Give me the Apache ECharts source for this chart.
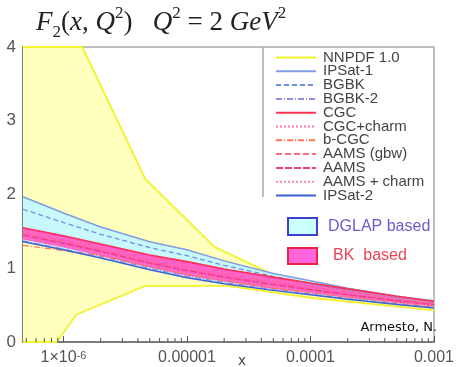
<!DOCTYPE html>
<html><head><meta charset="utf-8">
<script src="https://cdn.jsdelivr.net/npm/echarts@6/dist/echarts.min.js"></script>
<style>html,body{margin:0;padding:0;background:#fff}#c{width:457px;height:367px}</style>
</head><body><div id="c"></div>
<script>
// ---- data ----
const xs = [4.7e-7, 1e-6, 2e-6, 5e-6, 1e-5, 2e-5, 5e-5, 1e-4, 2e-4, 5e-4, 1e-3];
const ipsat1   = [1.97, 1.75, 1.56, 1.36, 1.25, 1.10, 0.93, 0.83, 0.73, 0.62, 0.56];
const bgbk     = [1.80, 1.62, 1.46, 1.28, 1.17, 1.04, 0.89, 0.79, 0.70, 0.60, 0.54];
const bgbk2    = [1.37, 1.26, 1.16, 1.00, 0.89, 0.81, 0.71, 0.65, 0.59, 0.52, 0.47];
const cgc      = [1.55, 1.44, 1.33, 1.18, 1.09, 0.99, 0.88, 0.80, 0.72, 0.62, 0.55];
const cgcCharm = [1.51, 1.40, 1.29, 1.14, 1.04, 0.95, 0.84, 0.77, 0.69, 0.60, 0.53];
const bcgc     = [1.31, 1.24, 1.17, 1.02, 0.92, 0.83, 0.73, 0.67, 0.61, 0.53, 0.48];
const aamsGbw  = [1.48, 1.37, 1.26, 1.10, 1.00, 0.91, 0.81, 0.74, 0.67, 0.58, 0.52];
const aams     = [1.45, 1.34, 1.23, 1.07, 0.97, 0.88, 0.78, 0.71, 0.64, 0.56, 0.50];
const aamsCharm= [1.42, 1.30, 1.20, 1.04, 0.93, 0.85, 0.75, 0.68, 0.62, 0.54, 0.49];
const pinkLow  = [1.39, 1.28, 1.17, 1.01, 0.90, 0.82, 0.72, 0.66, 0.60, 0.53, 0.48];
const ipsat2   = [1.36, 1.25, 1.14, 0.98, 0.87, 0.79, 0.70, 0.64, 0.58, 0.51, 0.46];
// NNPDF 1.0 band edges
const nnUpX = [4.7e-7, 1.42e-6, 4.6e-6, 1.67e-5, 5.5e-5, 2e-4, 1e-3];
const nnUpY = [4.0, 4.0, 2.21, 1.29, 0.88, 0.72, 0.52];
const nnLoX = [4.7e-7, 8.8e-7, 1.27e-6, 4.6e-6, 2.13e-5, 1e-4, 1e-3];
const nnLoY = [0.0, 0.0, 0.37, 0.76, 0.76, 0.60, 0.43];
// axis ticks
const xMajor = [1e-6, 1e-5, 1e-4, 1e-3];
const xMajorLabels = ['1×10{sup|-6}', '0.00001', '0.0001', '0.001'];
const xMinor = [5e-7,6e-7,7e-7,8e-7,9e-7, 2e-6,3e-6,4e-6,5e-6,6e-6,7e-6,8e-6,9e-6,
                2e-5,3e-5,4e-5,5e-5,6e-5,7e-5,8e-5,9e-5, 2e-4,3e-4,4e-4,5e-4,6e-4,7e-4,8e-4,9e-4];
const legendNames = ['NNPDF 1.0','IPSat-1','BGBK','BGBK-2','CGC','CGC+charm','b-CGC','AAMS (gbw)','AAMS','AAMS + charm','IPSat-2'];

// ---- chart ----
const chart = echarts.init(document.getElementById('c'), null, {renderer: 'canvas'});
const pair = (X, Y) => X.map((x, i) => [x, Y[i]]);

function band(upX, upY, loX, loY, fill, z) {
  return {
    type: 'custom', z: z, silent: true,
    data: [[upX[0], upY[0]]],
    renderItem: function (params, api) {
      const pts = [];
      for (let i = 0; i < upX.length; i++) pts.push(api.coord([upX[i], upY[i]]));
      for (let i = loX.length - 1; i >= 0; i--) pts.push(api.coord([loX[i], loY[i]]));
      return { type: 'polygon', shape: { points: pts }, style: { fill: fill, stroke: null } };
    }
  };
}
function line(name, X, Y, color, width, type, z) {
  return {
    type: 'line', name: name, data: pair(X, Y), symbol: 'none', z: z || 5,
    lineStyle: { color: color, width: width, type: type || 'solid' },
    itemStyle: { color: color }, silent: true
  };
}

const option = {
  animation: false,
  grid: { left: 23, right: 18, top: 47, bottom: 25, show: true, borderColor: '#aaaaaa', borderWidth: 1.5 },
  xAxis: {
    type: 'log', min: 4.7e-7, max: 1e-3, logBase: 10,
    axisLine: { lineStyle: { color: '#666', width: 1.5 } },
    axisTick: { inside: true, length: 6, lineStyle: { color: '#555', width: 1 } },
    splitLine: { show: false },
    axisLabel: {
      color: '#555', fontSize: 16, fontFamily: 'Liberation Sans', margin: 8, showMinLabel: false,
      formatter: function (v) {
        for (let i = 0; i < xMajor.length; i++) {
          if (Math.abs(Math.log10(v) - Math.log10(xMajor[i])) < 1e-3) return xMajorLabels[i];
        }
        return '';
      },
      rich: { sup: { fontSize: 11, verticalAlign: 'top', lineHeight: 8, color: '#555', fontFamily: 'Liberation Sans' } }
    }
  },
  yAxis: {
    type: 'value', min: 0, max: 4, interval: 1,
    axisLine: { show: true, lineStyle: { color: '#666', width: 1.5 } },
    axisTick: { show: true, inside: true, length: 6, lineStyle: { color: '#444', width: 1.5 } },
    minorTick: { show: true, splitNumber: 5, length: 4, lineStyle: { color: '#555', width: 1 } },
    splitLine: { show: false },
    axisLabel: { color: '#555', fontSize: 17, fontFamily: 'Liberation Sans', margin: 7 }
  },
  legend: {
    data: legendNames, orient: 'vertical', left: 275, top: 50,
    itemWidth: 40, itemHeight: 10, itemGap: -1.2, padding: 0,
    itemStyle: { color: 'rgba(0,0,0,0)', borderColor: 'rgba(0,0,0,0)', borderWidth: 0, opacity: 0 },
    textStyle: { fontSize: 15, fontFamily: 'Liberation Sans', color: '#444', lineHeight: 13.7, padding: [0, 0, 0, 2] },
    selectedMode: false
  },
  series: [
    band(nnUpX, nnUpY, nnLoX, nnLoY, '#ffffbe', 1),
    line('NNPDF 1.0', nnUpX, nnUpY, '#f2f230', 1.8, 'solid', 2),
    line('NNPDF 1.0', nnLoX, nnLoY, '#f2f230', 1.8, 'solid', 2),
    band(xs, ipsat1, xs, ipsat2, '#c8f8fc', 3),
    band(xs, cgc, xs, pinkLow, '#ff5ccf', 4),
    line('IPSat-1', xs, ipsat1, '#7f9de0', 1.5),
    line('BGBK', xs, bgbk, '#6f90dd', 1.3, [5, 3]),
    line('BGBK-2', xs, bgbk2, '#8b8fe6', 1.2, [6, 2, 1, 2]),
    line('CGC', xs, cgc, '#ff3050', 1.6),
    line('CGC+charm', xs, cgcCharm, '#ff7a9a', 1.2, [2, 2]),
    line('b-CGC', xs, bcgc, '#ff7755', 1.2, [6, 2, 1, 2]),
    line('AAMS (gbw)', xs, aamsGbw, '#ff6a8a', 1.2, [6, 3]),
    line('AAMS', xs, aams, '#f0407a', 1.4, [7, 2]),
    line('AAMS + charm', xs, aamsCharm, '#ff88a8', 1.2, [2, 2]),
    line('IPSat-2', xs, ipsat2, '#3d62d8', 1.5),
    {
      type: 'custom', z: 10, silent: true,
      data: xMinor.map(v => [v, 0]),
      renderItem: function (params, api) {
        const p = api.coord([api.value(0), 0]);
        return { type: 'line', shape: { x1: p[0], y1: p[1], x2: p[0], y2: p[1] - 4 }, style: { stroke: '#555', lineWidth: 1 } };
      }
    }
  ],
  graphic: [
    { type: 'text', left: 36, top: 5, silent: true,
      style: {
        text: '{i|F}{sb|2}{r|(}{i|x}{r|, }{i|Q}{sp|2}{r|)}{r|   }{i|Q}{sp|2}{r| = 2 }{i|GeV}{sp|2}',
        rich: {
          i: { fontFamily: 'Liberation Serif', fontStyle: 'italic', fontSize: 27, lineHeight: 36, fill: '#222', verticalAlign: 'middle' },
          r: { fontFamily: 'Liberation Serif', fontSize: 27, lineHeight: 36, fill: '#222', verticalAlign: 'middle' },
          sp: { fontFamily: 'Liberation Serif', fontSize: 17, lineHeight: 14, fill: '#222', verticalAlign: 'top' },
          sb: { fontFamily: 'Liberation Serif', fontSize: 17, lineHeight: 12, fill: '#222', verticalAlign: 'bottom' }
        }
      } },
    { type: 'line', silent: true, shape: { x1: 263, y1: 47, x2: 263, y2: 197 }, style: { stroke: '#aaaaaa', lineWidth: 1.5 } },
    { type: 'rect', silent: true, shape: { x: 288, y: 218, width: 29, height: 17 }, style: { fill: '#ccffff', stroke: '#4040c8', lineWidth: 2 } },
    { type: 'text', silent: true, x: 328, y: 227, style: { text: 'DGLAP based', fill: '#6a5bd0', fontSize: 16, fontFamily: 'Liberation Sans', verticalAlign: 'middle' } },
    { type: 'rect', silent: true, shape: { x: 288, y: 248, width: 29, height: 16 }, style: { fill: '#ff66dd', stroke: '#ee2244', lineWidth: 2 } },
    { type: 'text', silent: true, x: 333, y: 256, style: { text: 'BK  based', fill: '#ee4455', fontSize: 16, fontFamily: 'Liberation Sans', verticalAlign: 'middle' } },
    { type: 'text', silent: true, x: 437, y: 328, style: { text: 'Armesto, N.', fill: '#111', fontSize: 13, fontFamily: 'DejaVu Sans', align: 'right', verticalAlign: 'middle' } },
    { type: 'text', silent: true, x: 242, y: 361, style: { text: 'x', fill: '#444', fontSize: 15, fontFamily: 'Liberation Sans', align: 'center', verticalAlign: 'middle' } }
  ]
};
chart.setOption(option);
</script></body></html>
